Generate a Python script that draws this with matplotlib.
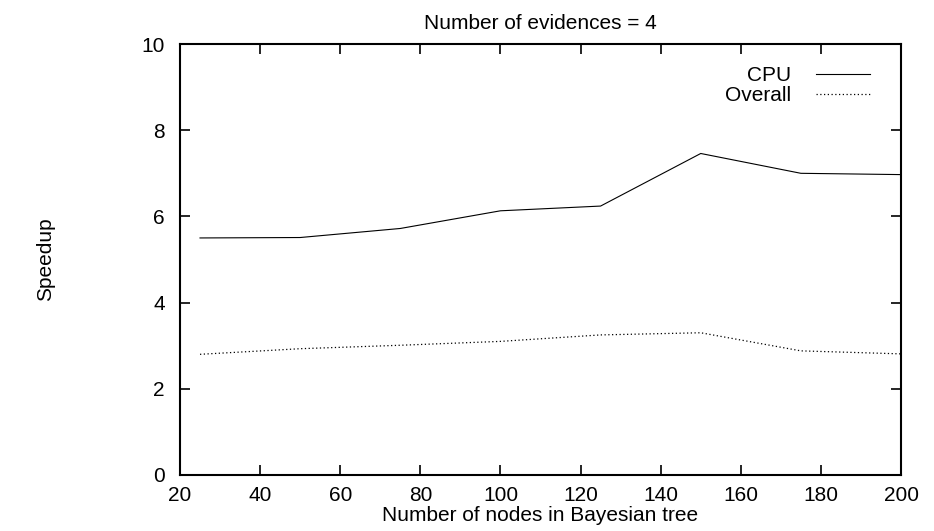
import matplotlib
matplotlib.use("Agg")
import matplotlib.pyplot as plt

# speedup vs tree size, evidences = 4
nodes = [25, 50, 75, 100, 125, 150, 175, 200]
cpu = [5.50, 5.51, 5.72, 6.13, 6.24, 7.46, 7.00, 6.97]
overall = [2.80, 2.93, 3.01, 3.10, 3.25, 3.30, 2.88, 2.81]

plt.rcParams['font.family'] = ['Liberation Sans', 'DejaVu Sans']
fs = 15

fig = plt.figure(figsize=(9.34, 5.31), dpi=100)
ax = fig.add_axes([0.1927, 0.1055, 0.772, 0.8116])

ax.plot(nodes, cpu, color='black', lw=0.8, label='CPU')
ax.plot(nodes, overall, color='black', lw=0.9, linestyle=(0, (1, 2)), label='Overall')

ax.set_xlim(20, 200)
ax.set_ylim(0, 10)
ax.set_xticks(range(20, 201, 20))
ax.set_yticks(range(0, 11, 2))
ax.tick_params(direction='in', length=7, width=1.2, top=True, right=True,
               labelsize=fs, pad=11)
ax.tick_params(axis='x', pad=8)
for s in ax.spines.values():
    s.set_linewidth(1.5)

ax.set_title('Number of evidences = 4', fontsize=fs, pad=11)
ax.set_xlabel('Number of nodes in Bayesian tree', fontsize=fs, labelpad=1)
ax.set_ylabel('Speedup', fontsize=fs, labelpad=62)

ax.legend(loc='upper right', bbox_to_anchor=(0.957, 0.948), frameon=False,
          markerfirst=False, fontsize=fs, handlelength=2.6, handletextpad=1.2,
          labelspacing=0.05, borderpad=0, borderaxespad=0)

fig.savefig('out.png', dpi=100)
